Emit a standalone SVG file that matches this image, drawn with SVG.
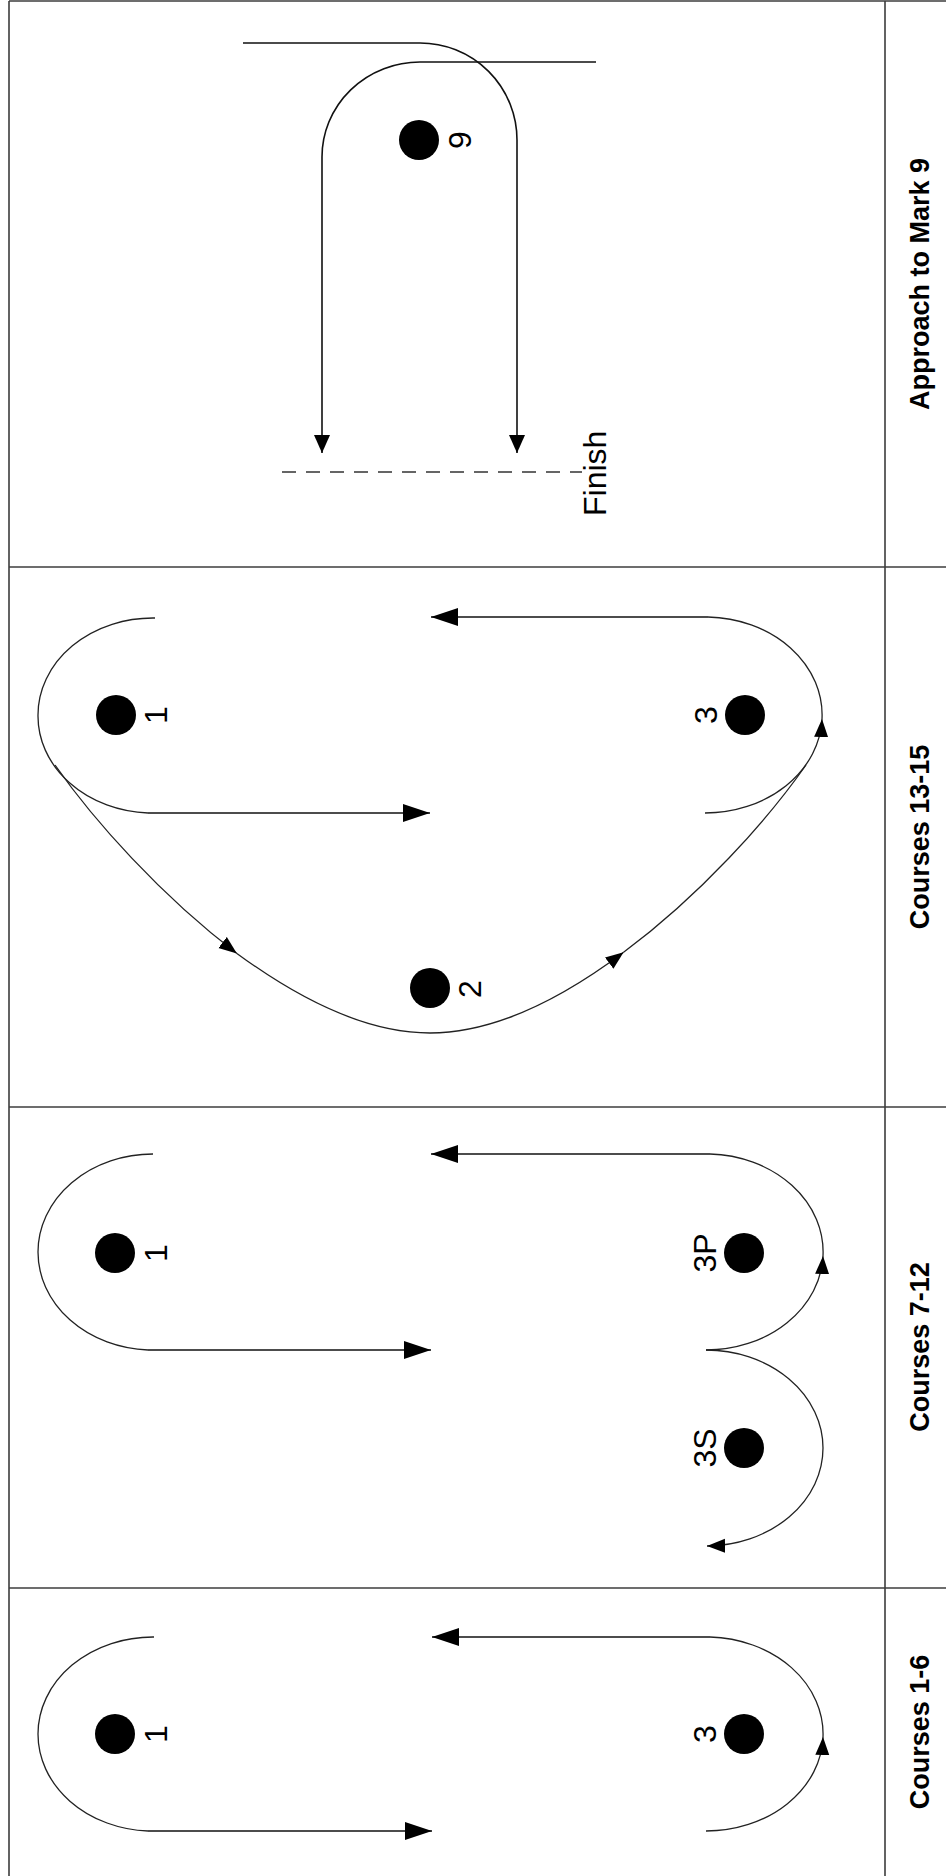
<svg xmlns="http://www.w3.org/2000/svg" width="946" height="1876" viewBox="0 0 946 1876">
<style>
.grid{stroke:#3c3c3c;stroke-width:1.6;fill:none}
.curve{stroke:#222;stroke-width:1.3;fill:none}
.line{stroke:#111;stroke-width:1.6;fill:none}
.dash{stroke:#333;stroke-width:1.6;fill:none;stroke-dasharray:14 10}
.mark{fill:#000}
.lbl{font-family:"Liberation Sans",Arial,sans-serif;font-size:32px;fill:#000;text-anchor:middle}
.fin{font-family:"Liberation Sans",Arial,sans-serif;font-size:32px;fill:#000;text-anchor:start}
.hdr{font-family:"Liberation Sans",Arial,sans-serif;font-size:27px;font-weight:bold;fill:#000;text-anchor:middle}
</style>
<defs>
<marker id="big" markerUnits="userSpaceOnUse" markerWidth="28" markerHeight="20" refX="27" refY="9" orient="auto"><path d="M0,0 L27,9 L0,18 z" fill="#000"/></marker>
<marker id="med" markerUnits="userSpaceOnUse" markerWidth="20" markerHeight="18" refX="18" refY="8" orient="auto"><path d="M0,0 L18,8 L0,16 z" fill="#000"/></marker>
<marker id="sm" markerUnits="userSpaceOnUse" markerWidth="20" markerHeight="16" refX="18" refY="7" orient="auto"><path d="M0,0 L18,7 L0,14 z" fill="#000"/></marker>
</defs>
<rect x="0" y="0" width="946" height="1876" fill="#fff"/>
<g id="table">
<line class="grid" x1="9" y1="1" x2="946" y2="1"/>
<line class="grid" x1="9" y1="1" x2="9" y2="1876"/>
<line class="grid" x1="885" y1="1" x2="885" y2="1876" stroke-width="2"/>
<line class="grid" x1="9" y1="567" x2="946" y2="567"/>
<line class="grid" x1="9" y1="1107" x2="946" y2="1107"/>
<line class="grid" x1="9" y1="1588" x2="946" y2="1588"/>
</g>
<g id="headers">
<text class="hdr" transform="translate(929,284) rotate(-90)">Approach to Mark 9</text>
<text class="hdr" transform="translate(929,837) rotate(-90)">Courses 13-15</text>
<text class="hdr" transform="translate(929,1347) rotate(-90)">Courses 7-12</text>
<text class="hdr" transform="translate(929,1732) rotate(-90)">Courses 1-6</text>
</g>
<g id="connectors">
<!-- Approach to Mark 9 -->
<path class="line" d="M243,43 H420 A97,97 0 0 1 517,140 V453" marker-end="url(#med)"/>
<path class="line" d="M596,62 H420 A98,95 0 0 0 322,157 V453" marker-end="url(#med)"/>
<path class="dash" d="M282,472 H582"/>
<!-- Courses 13-15 -->
<path class="curve" d="M155,618 A115,97 0 0 0 38,715 A115,97 0 0 0 148,813"/>
<path class="line" d="M148,813 H430" marker-end="url(#big)"/>
<path class="line" d="M708,617 H431" marker-end="url(#big)"/>
<path class="curve" d="M705,813 A117,98 0 0 0 822,719" marker-end="url(#sm)"/>
<path class="curve" d="M822,719 A117,98 0 0 0 708,617"/>
<path class="curve" d="M55,765 C93.5,820 160.7,895.6 236.9,953.4" marker-end="url(#sm)"/>
<path class="curve" d="M236.9,953.4 C298.9,999 367,1033 430,1033 C493,1033 561.3,999 623.6,952.3" marker-end="url(#sm)"/>
<path class="curve" d="M623.6,952.3 C699.9,895.6 767.5,820 806,765"/>
<!-- Courses 7-12 -->
<path class="curve" d="M153,1154 A115,98 0 0 0 38,1252 A115,98 0 0 0 148,1350"/>
<path class="line" d="M148,1350 H431" marker-end="url(#big)"/>
<path class="line" d="M710,1154 H431" marker-end="url(#big)"/>
<path class="curve" d="M706,1350 A117,98 0 0 0 823,1256" marker-end="url(#sm)"/>
<path class="curve" d="M823,1256 A117,98 0 0 0 710,1154"/>
<path class="curve" d="M706,1350 A117,98 0 0 1 823,1448 A117,98 0 0 1 707,1546" marker-end="url(#sm)"/>
<!-- Courses 1-6 -->
<path class="curve" d="M154,1637 A115,97 0 0 0 38,1734 A115,97 0 0 0 148,1831"/>
<path class="line" d="M148,1831 H432" marker-end="url(#big)"/>
<path class="line" d="M710,1637 H432" marker-end="url(#big)"/>
<path class="curve" d="M706,1831 A117,97 0 0 0 823,1737" marker-end="url(#sm)"/>
<path class="curve" d="M823,1737 A117,97 0 0 0 710,1637"/>
</g>
<g id="finish"><text class="fin" transform="translate(606,516) rotate(-90)">Finish</text></g>
<g id="mark9"><circle class="mark" cx="419" cy="140" r="20"/><text class="lbl" transform="translate(471,140) rotate(-90)">9</text></g>
<g id="c13-mark1"><circle class="mark" cx="116" cy="715" r="20"/><text class="lbl" transform="translate(167,715) rotate(-90)">1</text></g>
<g id="c13-mark3"><circle class="mark" cx="745" cy="715" r="20"/><text class="lbl" transform="translate(717,715) rotate(-90)">3</text></g>
<g id="c13-mark2"><circle class="mark" cx="430" cy="988" r="20"/><text class="lbl" transform="translate(481,989) rotate(-90)">2</text></g>
<g id="c7-mark1"><circle class="mark" cx="115" cy="1253" r="20"/><text class="lbl" transform="translate(167,1253) rotate(-90)">1</text></g>
<g id="c7-mark3P"><circle class="mark" cx="744" cy="1253" r="20"/><text class="lbl" transform="translate(716,1253) rotate(-90)">3P</text></g>
<g id="c7-mark3S"><circle class="mark" cx="744" cy="1448" r="20"/><text class="lbl" transform="translate(716,1448) rotate(-90)">3S</text></g>
<g id="c1-mark1"><circle class="mark" cx="115" cy="1734" r="20"/><text class="lbl" transform="translate(167,1734) rotate(-90)">1</text></g>
<g id="c1-mark3"><circle class="mark" cx="744" cy="1734" r="20"/><text class="lbl" transform="translate(716,1734) rotate(-90)">3</text></g>
</svg>
